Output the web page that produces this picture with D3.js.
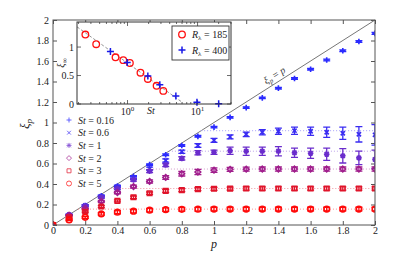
<!DOCTYPE html>
<html><head><meta charset="utf-8">
<script src="https://cdn.jsdelivr.net/npm/d3@7/dist/d3.min.js"></script>
<style>
body{margin:0;background:#fff;}
svg{display:block;font-family:"Liberation Serif","Times New Roman",serif;}
</style></head><body>
<svg id="c" width="415" height="260"></svg>
<script>
// ---------- data ----------
const pValues = [0,0.1,0.2,0.3,0.4,0.5,0.6,0.7,0.8,0.9,1.0,1.1,1.2,1.3,1.4,1.5,1.6,1.7,1.8,1.9,2.0];
const stLabels = ["0.16","0.6","1","2","3","5"];
const xiSt016 = [0,0.1,0.19,0.285,0.38,0.475,0.59,0.685,0.775,0.865,0.955,1.05,1.145,1.24,1.335,1.43,1.52,1.61,1.70,1.79,1.87];
const errSt016 = [0,0.004,0.005,0.006,0.006,0.007,0.007,0.008,0.008,0.008,0.008,0.008,0.008,0.008,0.008,0.008,0.008,0.008,0.008,0.008,0.01];
const xiSt06 = [0,0.1,0.19,0.28,0.375,0.46,0.55,0.63,0.715,0.775,0.826,0.86,0.885,0.905,0.915,0.92,0.915,0.905,0.895,0.885,0.88];
const errSt06 = [0,0.005,0.008,0.01,0.012,0.014,0.015,0.016,0.016,0.018,0.02,0.02,0.022,0.025,0.03,0.035,0.04,0.05,0.06,0.075,0.1];
const xiSt1 = [0,0.098,0.185,0.27,0.355,0.44,0.525,0.585,0.65,0.705,0.71,0.725,0.72,0.72,0.72,0.705,0.70,0.69,0.675,0.655,0.64];
const errSt1 = [0,0.005,0.008,0.01,0.01,0.012,0.014,0.015,0.016,0.02,0.02,0.035,0.04,0.04,0.045,0.045,0.05,0.06,0.07,0.065,0.09];
const xiSt2 = [0,0.095,0.16,0.23,0.317,0.375,0.425,0.464,0.5,0.517,0.535,0.543,0.545,0.546,0.546,0.546,0.546,0.546,0.546,0.546,0.546];
const errSt2 = [0,0.006,0.008,0.01,0.012,0.014,0.015,0.018,0.022,0.025,0.022,0.02,0.02,0.02,0.02,0.02,0.02,0.02,0.02,0.02,0.02];
const xiSt3 = [0,0.075,0.13,0.18,0.235,0.27,0.31,0.333,0.34,0.35,0.353,0.355,0.356,0.356,0.356,0.356,0.356,0.356,0.356,0.356,0.356];
const errSt3 = [0,0.006,0.008,0.01,0.01,0.012,0.012,0.014,0.015,0.015,0.015,0.015,0.015,0.015,0.015,0.015,0.015,0.015,0.015,0.015,0.015];
const xiSt5 = [0,0.05,0.075,0.108,0.125,0.135,0.145,0.15,0.153,0.154,0.155,0.155,0.155,0.155,0.155,0.155,0.155,0.155,0.155,0.155,0.155];
const errSt5 = [0,0.008,0.01,0.012,0.015,0.016,0.017,0.018,0.018,0.018,0.018,0.018,0.018,0.018,0.018,0.018,0.018,0.018,0.018,0.018,0.018];
const xiInf = [null,0.92,0.72,0.546,0.356,0.155];
const xTicks = [0,0.2,0.4,0.6,0.8,1,1.2,1.4,1.6,1.8,2];
const yTicks = [0,0.2,0.4,0.6,0.8,1,1.2,1.4,1.6,1.8,2];
// inset
const insetSt185 = [0.25,0.357,0.674,0.87,1.08,1.53,1.95,2.6,3.24];
const insetXi185 = [1.22,1.05,0.82,0.77,0.72,0.55,0.44,0.32,0.23];
const insetSt400 = [0.57,0.99,1.95,2.89,4.9,9.8,20];
const insetXi400 = [0.92,0.73,0.49,0.34,0.14,0.03,0.005];
const fitSt = [0.19,6.2];
const fitXi = [1.355,0.02];
const insetYTicks = [0,0.5,1];
const insetYLabels = ["0","0.5","1"];
const insetXMajor = [1,10];
const insetXMajorExp = ["0","1"];
const insetXMinor = [0.2,0.3,0.4,0.5,0.6,0.7,0.8,0.9,2,3,4,5,6,7,8,9,20,30];

const seriesXi = [xiSt016,xiSt06,xiSt1,xiSt2,xiSt3,xiSt5];
const seriesErr = [errSt016,errSt06,errSt1,errSt2,errSt3,errSt5];
const colors = ["#2b2bff","#3a2cf2","#6a2ccc","#a01e8c","#e0142a","#ff0a0a"];
const symbols = ["plus","cross","star","diamond","square","circle"];

// ---------- helpers ----------
const sym = {
  plus: s=>`M${-s},0H${s}M0,${-s}V${s}`,
  cross: s=>{const d=s*0.75;return `M${-d},${-d}L${d},${d}M${-d},${d}L${d},${-d}`;},
  star: s=>sym.plus(s)+sym.cross(s),
  diamond: s=>`M0,${-s}L${s},0L0,${s}L${-s},0Z`,
  square: s=>{const d=s*0.8;return `M${-d},${-d}H${d}V${d}H${-d}Z`;},
  circle: s=>`M${s},0A${s},${s} 0 1,1 ${-s},0A${s},${s} 0 1,1 ${s},0Z`
};

const svg = d3.select("#c");
const L=53,R=375,T=20,B=225;
const x = d3.scaleLinear([0,2],[L,R]);
const y = d3.scaleLinear([0,2],[B,T]);
const fmt = d=>String(+d.toFixed(1));

svg.append("defs").append("clipPath").attr("id","pc")
  .append("rect").attr("x",L).attr("y",T).attr("width",R-L).attr("height",B-T);

// axes
const axStyle = g=>{g.select(".domain").remove();
  g.selectAll(".tick line").attr("stroke","#555");
  g.selectAll(".tick text").attr("font-size",10).attr("fill","#222").attr("font-family","Liberation Serif");};
svg.append("g").attr("transform",`translate(0,${B})`)
  .call(d3.axisBottom(x).tickValues(xTicks).tickFormat(fmt).tickSizeInner(-4).tickSizeOuter(0).tickPadding(2)).call(axStyle);
svg.append("g").attr("transform",`translate(0,${T})`)
  .call(d3.axisTop(x).tickValues(xTicks).tickFormat("").tickSizeInner(-4).tickSizeOuter(0)).call(axStyle);
svg.append("g").attr("transform",`translate(${L},0)`)
  .call(d3.axisLeft(y).tickValues(yTicks).tickFormat(fmt).tickSizeInner(-4).tickSizeOuter(0).tickPadding(4)).call(axStyle);
svg.append("g").attr("transform",`translate(${R},0)`)
  .call(d3.axisRight(y).tickValues(yTicks).tickFormat("").tickSizeInner(-4).tickSizeOuter(0)).call(axStyle);

// diagonal
svg.append("line").attr("x1",x(0)).attr("y1",y(0)).attr("x2",x(2)).attr("y2",y(2))
  .attr("stroke","#777").attr("stroke-width",1);
const ang = Math.atan2(y(2)-y(0), x(2)-x(0))*180/Math.PI;
const dl = svg.append("text").attr("transform",`translate(${x(1.4)},${y(1.4)}) rotate(${ang})`)
  .attr("text-anchor","middle").attr("dy",-4).attr("font-size",10).attr("fill","#333");
dl.append("tspan").attr("font-style","italic").text("ξ");
dl.append("tspan").attr("font-style","italic").attr("font-size",7).attr("dy",2).text("p");
dl.append("tspan").attr("dy",-2).text(" = ");
dl.append("tspan").attr("font-style","italic").text("p");

const data = svg.append("g").attr("clip-path","url(#pc)");
// dotted saturation levels
xiInf.forEach((v,i)=>{ if(v==null) return;
  data.append("line").attr("x1",x(v)).attr("x2",x(2)).attr("y1",y(v)).attr("y2",y(v))
    .attr("stroke",d3.interpolateRgb(colors[i],"#fff")(0.55)).attr("stroke-width",1)
    .attr("stroke-dasharray","1,2");
});
// series
seriesXi.forEach((xs,i)=>{
  const g = data.append("g").attr("stroke",colors[i]).attr("fill","none");
  pValues.forEach((p,j)=>{
    const e = seriesErr[i][j], cx=x(p), v=xs[j];
    if(e>0){
      const y1=y(v-e), y2=y(v+e);
      g.append("path").attr("d",`M${cx},${y1}V${y2}M${cx-3.5},${y1}H${cx+3.5}M${cx-3.5},${y2}H${cx+3.5}`)
        .attr("stroke-width",1.3);
    }
    g.append("path").attr("d",sym[symbols[i]](2.8)).attr("transform",`translate(${cx},${y(v)})`)
      .attr("stroke-width",1.6);
  });
});
// frame
svg.append("rect").attr("x",L).attr("y",T).attr("width",R-L).attr("height",B-T)
  .attr("fill","none").attr("stroke","#555").attr("stroke-width",1);

// legend
const legY0 = 120, legDy = 12.7;
stLabels.forEach((s,i)=>{
  const yy = legY0+i*legDy;
  svg.append("path").attr("d",sym[symbols[i]](2.5)).attr("transform",`translate(69,${yy})`)
    .attr("fill","none").attr("stroke",d3.interpolateRgb(colors[i],"#fff")(0.2)).attr("stroke-width",0.9);
  const t = svg.append("text").attr("x",78).attr("y",yy+3.5).attr("font-size",10).attr("fill","#222");
  t.append("tspan").attr("font-style","italic").text("St");
  t.append("tspan").text(" = "+s);
});

// axis labels
svg.append("text").attr("x",(L+R)/2).attr("y",248).attr("text-anchor","middle")
  .attr("font-size",12).attr("font-style","italic").attr("fill","#222").text("p");
const yl = svg.append("text").attr("transform","translate(29,124) rotate(-90)").attr("text-anchor","middle")
  .attr("font-size",13).attr("fill","#222");
yl.append("tspan").attr("font-style","italic").text("ξ");
yl.append("tspan").attr("font-style","italic").attr("font-size",9).attr("dy",3).text("p");

// ---------- inset ----------
const iL=77,iR=231,iT=22,iB=104;
const ix = d3.scaleLog([0.19,30],[iL,iR]);
const iy = d3.scaleLinear([0,1.44],[iB,iT]);
const ins = svg.append("g");
ins.append("rect").attr("x",iL).attr("y",iT).attr("width",iR-iL).attr("height",iB-iT).attr("fill","#fff");
// ticks
const tk = ins.append("g").attr("stroke","#444").attr("stroke-width",0.8);
insetXMajor.forEach(v=>{tk.append("line").attr("x1",ix(v)).attr("x2",ix(v)).attr("y1",iB).attr("y2",iB-4);
  tk.append("line").attr("x1",ix(v)).attr("x2",ix(v)).attr("y1",iT).attr("y2",iT+4);});
insetXMinor.forEach(v=>{tk.append("line").attr("x1",ix(v)).attr("x2",ix(v)).attr("y1",iB).attr("y2",iB-2);
  tk.append("line").attr("x1",ix(v)).attr("x2",ix(v)).attr("y1",iT).attr("y2",iT+2);});
insetYTicks.forEach(v=>{tk.append("line").attr("x1",iL).attr("x2",iL+4).attr("y1",iy(v)).attr("y2",iy(v));
  tk.append("line").attr("x1",iR).attr("x2",iR-4).attr("y1",iy(v)).attr("y2",iy(v));});
insetYTicks.forEach((v,i)=>{
  ins.append("text").attr("x",iL-3).attr("y",iy(v)+3.5).attr("text-anchor","end")
    .attr("font-size",10).attr("fill","#222").text(insetYLabels[i]);
});
insetXMajor.forEach((v,i)=>{
  const t = ins.append("text").attr("x",ix(v)).attr("y",iB+11).attr("text-anchor","middle")
    .attr("font-size",10).attr("fill","#222");
  t.append("tspan").text("10");
  t.append("tspan").attr("font-size",7).attr("dy",-4).text(insetXMajorExp[i]);
});
ins.append("text").attr("x",147).attr("y",iB+10).attr("font-size",10).attr("font-style","italic")
  .attr("fill","#222").text("St");
const iyl = ins.append("text").attr("transform",`translate(64,63) rotate(-90)`).attr("text-anchor","middle")
  .attr("font-size",10).attr("fill","#222");
iyl.append("tspan").attr("font-style","italic").text("ξ");
iyl.append("tspan").attr("font-size",7).attr("dy",2.5).text("∞");
// fit line
ins.append("line").attr("x1",ix(fitSt[0])).attr("y1",iy(fitXi[0])).attr("x2",ix(fitSt[1])).attr("y2",iy(fitXi[1]))
  .attr("stroke","#888").attr("stroke-width",0.9).attr("stroke-dasharray","3,2");
// points
insetSt185.forEach((s,i)=>{
  ins.append("circle").attr("cx",ix(s)).attr("cy",iy(insetXi185[i])).attr("r",3.3)
    .attr("fill","none").attr("stroke","#ff1010").attr("stroke-width",1.3);
});
insetSt400.forEach((s,i)=>{
  ins.append("path").attr("d",sym.plus(3.5)).attr("transform",`translate(${ix(s)},${iy(insetXi400[i])})`)
    .attr("fill","none").attr("stroke","#1818e8").attr("stroke-width",1.5);
});
// inset legend
ins.append("rect").attr("x",172).attr("y",26).attr("width",57).attr("height",34)
  .attr("fill","#fff").attr("stroke","#333").attr("stroke-width",0.9);
ins.append("circle").attr("cx",182).attr("cy",34.5).attr("r",3.3).attr("fill","none")
  .attr("stroke","#ff1010").attr("stroke-width",1.3);
ins.append("path").attr("d",sym.plus(3.5)).attr("transform","translate(182,50)")
  .attr("fill","none").attr("stroke","#1818e8").attr("stroke-width",1.5);
[["185",38],["400",53.5]].forEach(([v,yy])=>{
  const t = ins.append("text").attr("x",192).attr("y",yy).attr("font-size",10).attr("fill","#222");
  t.append("tspan").attr("font-style","italic").text("R");
  t.append("tspan").attr("font-size",7).attr("dy",2).text("λ");
  t.append("tspan").attr("dy",-2).text(" = "+v);
});
ins.append("rect").attr("x",iL).attr("y",iT).attr("width",iR-iL).attr("height",iB-iT)
  .attr("fill","none").attr("stroke","#333").attr("stroke-width",1);
</script>
</body></html>
